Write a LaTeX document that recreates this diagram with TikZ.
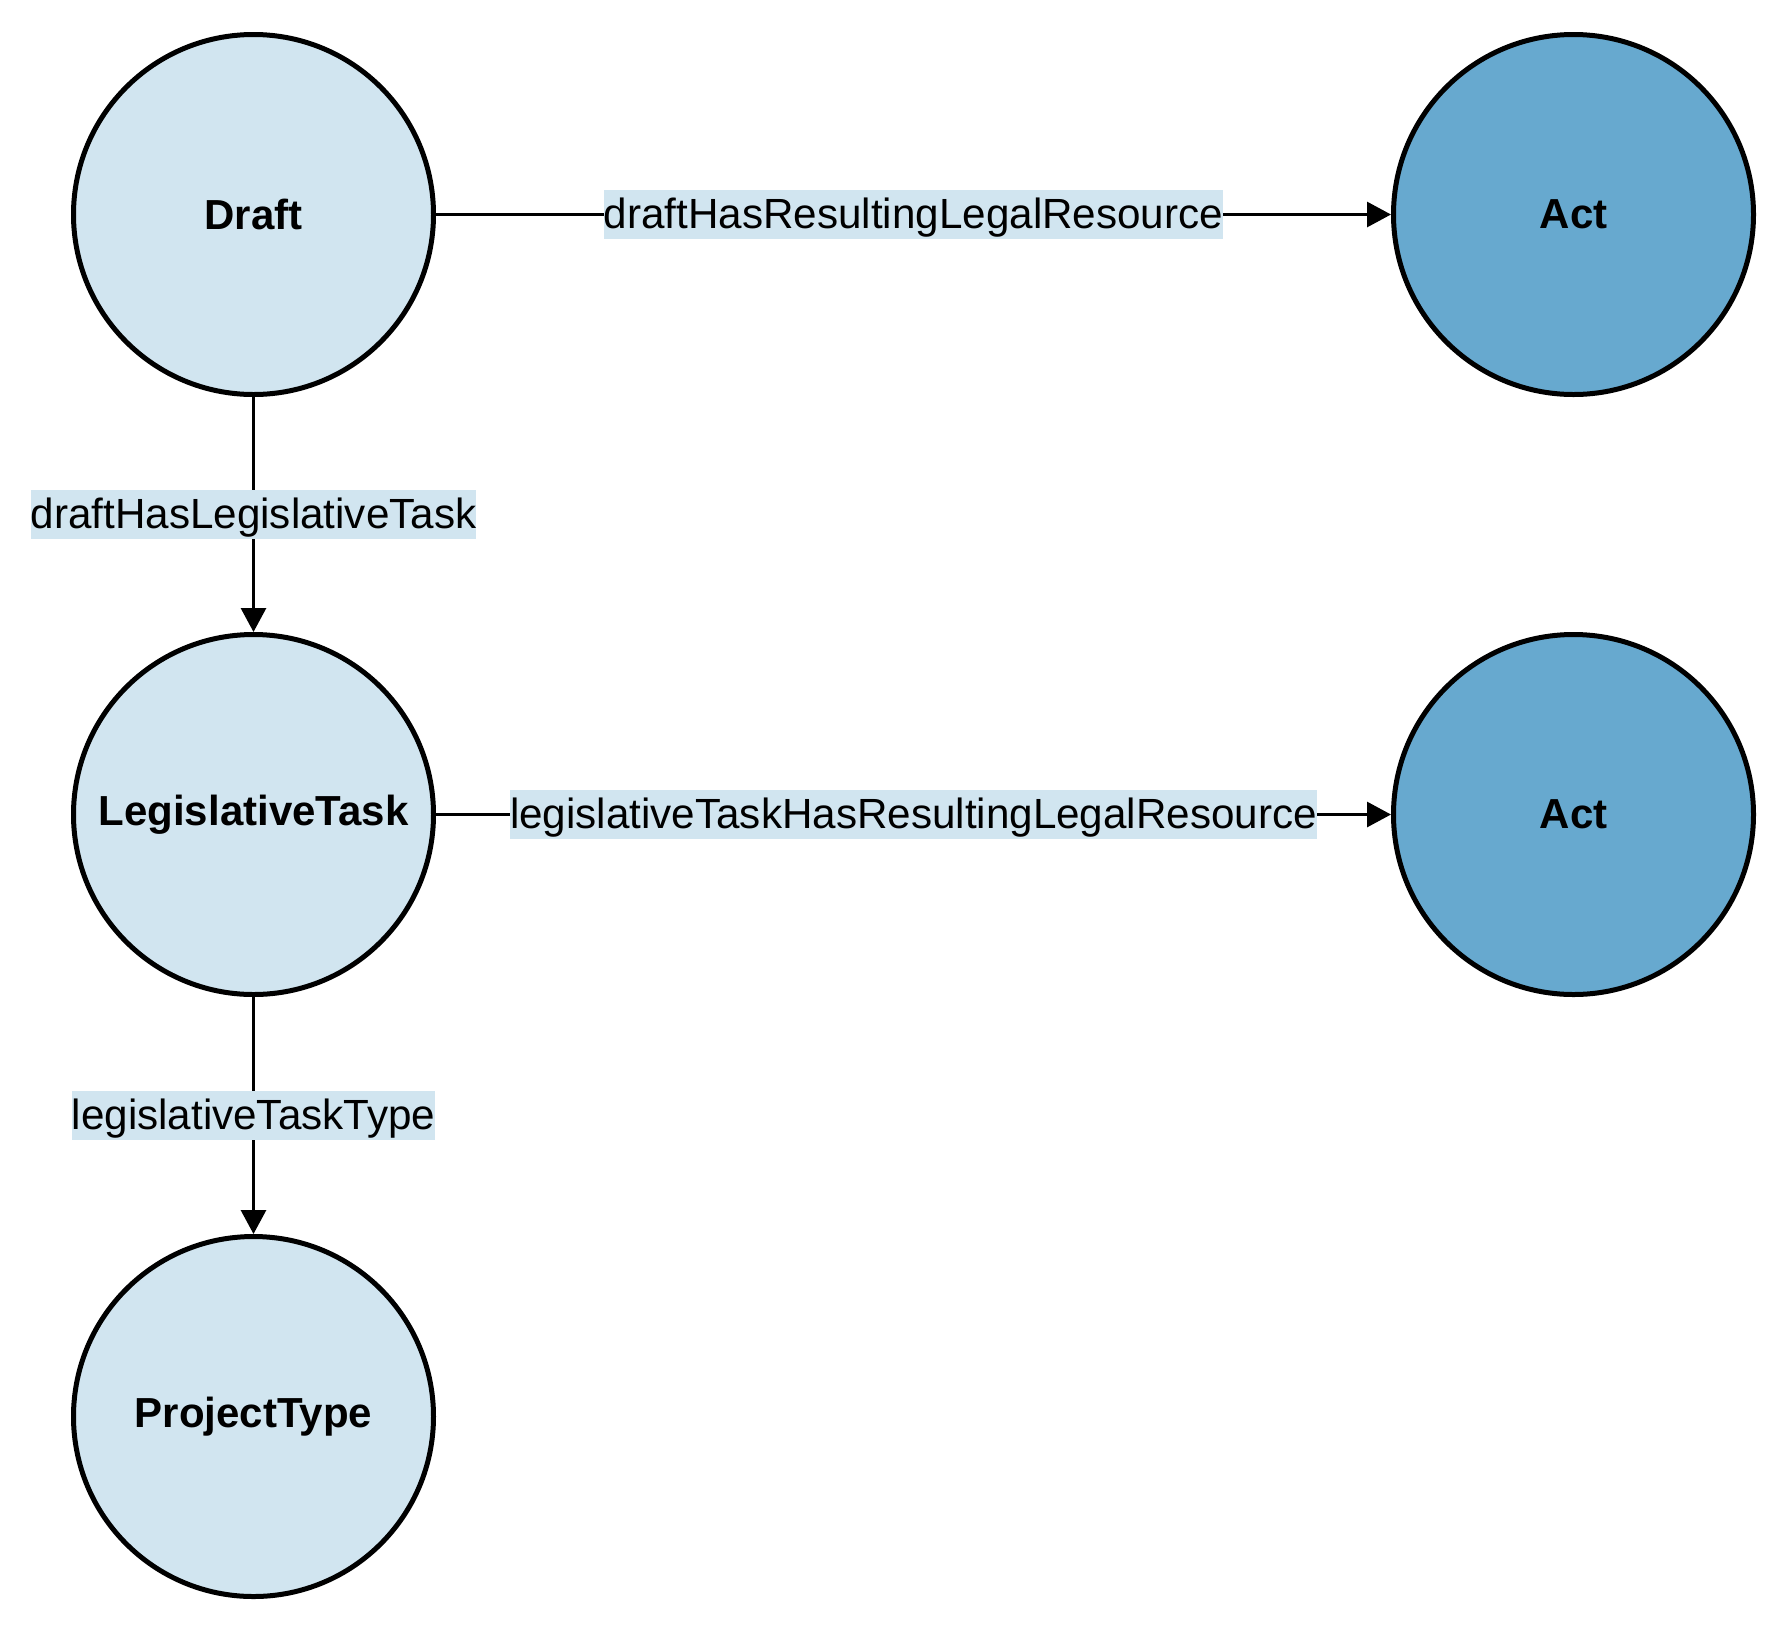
\documentclass[tikz,border=0pt]{standalone}
\usepackage{fontspec}
\setmainfont{Liberation Sans}
\usetikzlibrary{arrows.meta}
\definecolor{lightnode}{HTML}{D1E5F0}
\definecolor{darknode}{HTML}{67A9CF}
\begin{document}
\begin{tikzpicture}[x=1pt,y=-1pt,
  concept/.style={circle,draw=black,line width=5pt,minimum size=360pt,inner sep=0pt,
    font=\fontsize{42}{48}\selectfont\bfseries,text=black},
  light/.style={concept,fill=lightnode},
  dark/.style={concept,fill=darknode},
  rel/.style={draw=black,line width=3pt,-{Triangle[length=24pt,width=25pt]}},
  rellabel/.style={fill=lightnode,inner xsep=0pt,inner ysep=0pt,text height=38.2pt,text depth=10pt,
    font=\fontsize{42.2}{48}\selectfont,text=black}
]
\useasboundingbox (0,0) rectangle (1785,1626);
\node[light] (draft) at (253.5,214.5) {Draft};
\node[dark] (act1) at (1573.5,214.5) {Act};
\node[light] (task) at (253.5,814.5) {LegislativeTask};
\node[dark] (act2) at (1573.5,814.5) {Act};
\node[light] (ptype) at (253.5,1416.5) {ProjectType};
\draw[rel] (draft) -- node[rellabel] {draftHasResultingLegalResource} (act1);
\draw[rel] (draft) -- node[rellabel] {draftHasLegislativeTask} (task);
\draw[rel] (task) -- node[rellabel] {legislativeTaskHasResultingLegalResource} (act2);
\draw[rel] (task) -- node[rellabel] {legislativeTaskType} (ptype);
\end{tikzpicture}
\end{document}
